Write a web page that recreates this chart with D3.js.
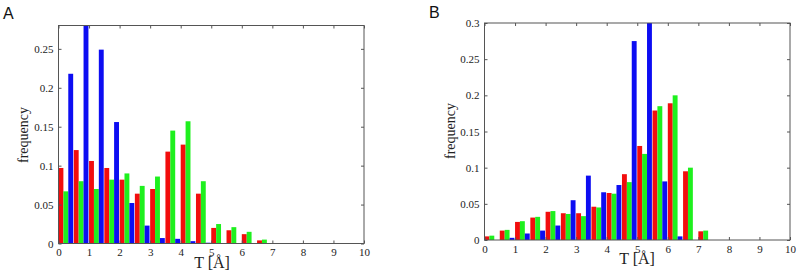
<!DOCTYPE html>
<html>
<head>
<meta charset="utf-8">
<script src="https://cdn.jsdelivr.net/npm/d3@7"></script>
<style>
  body { margin: 0; background: #fff; }
</style>
</head>
<body>
<div id="chart"></div>
<script>
// bin start positions (Å), bin width 0.5
const binsA = [0, 0.5, 1, 1.5, 2, 2.5, 3, 3.5, 4, 4.5, 5, 5.5, 6, 6.5];
const redA   = [0.097, 0.120, 0.106, 0.097, 0.082, 0.064, 0.070, 0.118, 0.127, 0.064, 0.020, 0.017, 0.012, 0.004];
const greenA = [0.067, 0.080, 0.070, 0.082, 0.090, 0.074, 0.086, 0.145, 0.157, 0.080, 0.025, 0.021, 0.015, 0.005];
const blueA  = [0.218, 0.290, 0.249, 0.156, 0.052, 0.023, 0.007, 0.006, 0.003, 0.001, 0, 0, 0, 0];

const binsB = [0, 0.5, 1, 1.5, 2, 2.5, 3, 3.5, 4, 4.5, 5, 5.5, 6, 6.5, 7];
const redB   = [0.005, 0.013, 0.025, 0.031, 0.039, 0.037, 0.037, 0.046, 0.065, 0.091, 0.130, 0.179, 0.189, 0.095, 0.012];
const greenB = [0.006, 0.014, 0.026, 0.032, 0.040, 0.036, 0.033, 0.045, 0.064, 0.080, 0.119, 0.185, 0.200, 0.100, 0.013];
const blueB  = [0, 0.003, 0.009, 0.013, 0.020, 0.055, 0.089, 0.066, 0.076, 0.275, 0.310, 0.081, 0.005, 0, 0];

const xTicks = [0, 1, 2, 3, 4, 5, 6, 7, 8, 9, 10];
const yTicksA = [0, 0.05, 0.1, 0.15, 0.2, 0.25];
const yTicksB = [0, 0.05, 0.1, 0.15, 0.2, 0.25, 0.3];

const colors = ["#f20d0d", "#1ef01e", "#0d0df2"];
const serif = "'Liberation Serif', 'Times New Roman', serif";

const svg = d3.select("#chart").append("svg")
  .attr("width", 800)
  .attr("height", 273);

function panel(id, box, bins, series, yMax, yTicks, label, labelPos, freqPos, tPos) {
  const x = d3.scaleLinear().domain([0, 10]).range([box.left, box.right]);
  const y = d3.scaleLinear().domain([0, yMax]).range([box.bottom, box.top]);

  svg.append("clipPath").attr("id", "clip" + id)
    .append("rect")
      .attr("x", box.left).attr("y", box.top)
      .attr("width", box.right - box.left).attr("height", box.bottom - box.top);

  const g = svg.append("g");

  // bars: red, green, blue side by side inside every 0.5 bin
  const barW = 0.16;
  series.forEach(function(vals, s) {
    g.append("g")
      .attr("clip-path", "url(#clip" + id + ")")
      .selectAll("rect")
      .data(vals.map(function(v, i) { return {b: bins[i], v: v}; }).filter(function(d) { return d.v > 0; }))
      .join("rect")
        .attr("x", function(d) { return x(d.b + s * barW); })
        .attr("width", x(barW) - x(0))
        .attr("y", function(d) { return y(d.v); })
        .attr("height", function(d) { return y(0) - y(d.v); })
        .attr("fill", colors[s]);
  });

  const fmt = d3.format("~g");

  const axB = g.append("g").attr("transform", `translate(0,${box.bottom})`)
    .call(d3.axisBottom(x).tickValues(xTicks).tickSize(-3).tickPadding(5).tickFormat(fmt));
  const axT = g.append("g").attr("transform", `translate(0,${box.top})`)
    .call(d3.axisTop(x).tickValues(xTicks).tickSize(-3).tickFormat(""));
  const axL = g.append("g").attr("transform", `translate(${box.left},0)`)
    .call(d3.axisLeft(y).tickValues(yTicks).tickSize(-3).tickPadding(5).tickFormat(fmt));
  const axR = g.append("g").attr("transform", `translate(${box.right},0)`)
    .call(d3.axisRight(y).tickValues(yTicks).tickSize(-3).tickFormat(""));

  [axB, axT, axL, axR].forEach(function(a) {
    a.select(".domain").remove();
    a.attr("font-family", null);
    a.selectAll("line").attr("stroke", "#555");
    a.selectAll("text").style("font-family", serif).style("font-size", "11px").attr("fill", "#222");
  });

  g.append("rect")
    .attr("x", box.left).attr("y", box.top)
    .attr("width", box.right - box.left).attr("height", box.bottom - box.top)
    .attr("fill", "none").attr("stroke", "#555").attr("stroke-width", 1);

  svg.append("text")
    .attr("transform", `translate(${freqPos[0]},${freqPos[1]}) rotate(-90)`)
    .attr("text-anchor", "middle")
    .style("font-family", serif)
    .style("font-size", "14px")
    .attr("fill", "#222")
    .text("frequency");

  svg.append("text")
    .attr("x", tPos[0]).attr("y", tPos[1])
    .attr("text-anchor", "middle")
    .style("font-family", serif)
    .style("font-size", "16px")
    .attr("fill", "#222")
    .text("T [Å]");

  svg.append("text")
    .attr("x", labelPos[0]).attr("y", labelPos[1])
    .style("font-family", "'Liberation Sans', Arial, sans-serif")
    .style("font-size", "16px")
    .attr("fill", "#111")
    .text(label);
}

panel("A", {left: 58.5, right: 364, top: 25.5, bottom: 243.5}, binsA, [redA, greenA, blueA],
  0.28, yTicksA, "A", [3, 18.5], [28, 135], [212, 268]);
panel("B", {left: 484.5, right: 790, top: 23, bottom: 240}, binsB, [redB, greenB, blueB],
  0.3, yTicksB, "B", [429, 18], [455, 131], [637, 264]);
</script>
</body>
</html>
